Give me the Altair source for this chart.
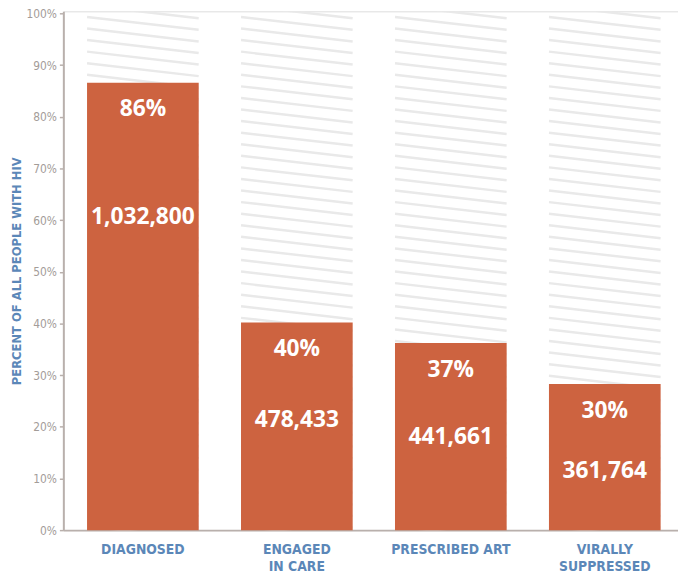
import altair as alt
import pandas as pd

categories = ["DIAGNOSED", "ENGAGED|IN CARE", "PRESCRIBED ART", "VIRALLY|SUPPRESSED"]
bar_values = [86.6, 40.2, 36.2, 28.3]
pct_labels = ["86%", "40%", "37%", "30%"]
count_labels = ["1,032,800", "478,433", "441,661", "361,764"]
y_ticks = [0, 10, 20, 30, 40, 50, 60, 70, 80, 90, 100]

BAR = "#cd6340"
BLUE = "#5b87b8"
GRAY = "#a39c98"
AXIS = "#b9b0ac"
COND = "DejaVu Sans Condensed, Liberation Sans, sans-serif"

df = pd.DataFrame({
    "cat": categories,
    "value": bar_values,
    "pct": pct_labels,
    "count": count_labels,
})

# decorative hatching (background stripes of each column)
TOP = 100.4
stripe_rows = []
for c in categories:
    for k in range(52):
        yl = TOP + 3.4 - k * 2.24
        stripe_rows.append({"cat": c, "yl": yl, "yr": yl - 2.5})
stripes = pd.DataFrame(stripe_rows)

xscale = alt.Scale(domain=categories, paddingInner=0.275, paddingOuter=0.1335, align=0.577)
yscale = alt.Scale(domain=[0, TOP], nice=False)

xaxis = alt.Axis(
    title=None, labelAngle=0, ticks=False, domainColor=AXIS, domainWidth=2,
    labelColor=BLUE, labelFont=COND, labelFontWeight="bold",
    labelFontSize=14, labelPadding=13, labelLineHeight=17,
    labelExpr="split(datum.value, '|')",
)
yaxis = alt.Axis(
    title="PERCENT OF ALL PEOPLE WITH HIV", values=y_ticks,
    labelExpr="datum.value + '%'", grid=False,
    domainColor=AXIS, domainWidth=2, tickColor=AXIS, tickSize=4, tickWidth=1.5,
    labelColor=GRAY, labelFont=COND, labelFontSize=12,
    labelPadding=3,
    titleColor=BLUE, titleFont=COND, titleFontWeight="bold",
    titleFontSize=13, titlePadding=2,
)

hatch = alt.Chart(stripes).mark_rule(
    color="#e9e9e9", strokeWidth=2.5, clip=True
).encode(
    x=alt.X("cat:N", scale=xscale, axis=xaxis, sort=categories, bandPosition=0),
    x2=alt.X2("cat", bandPosition=1),
    y=alt.Y("yl:Q", scale=yscale, axis=yaxis),
    y2="yr:Q",
)

bars = alt.Chart(df).mark_bar(color=BAR, size=113).encode(
    x=alt.X("cat:N", scale=xscale, sort=categories),
    y=alt.Y("value:Q", scale=yscale),
)

pct_text = alt.Chart(df).mark_text(
    color="white", font="Open Sans", fontWeight="bold", fontSize=23,
    baseline="middle", dy=27,
).encode(
    x=alt.X("cat:N", scale=xscale, sort=categories),
    y=alt.Y("value:Q", scale=yscale),
    text="pct:N",
)

count_text = alt.Chart(df).transform_calculate(
    ly="0.843 * datum.value - 12.5"
).mark_text(
    color="white", font="Open Sans", fontWeight="bold", fontSize=23,
    baseline="middle",
).encode(
    x=alt.X("cat:N", scale=xscale, sort=categories),
    y=alt.Y("ly:Q", scale=yscale),
    text="count:N",
)

chart = alt.layer(hatch, bars, pct_text, count_text).properties(
    width=622, height=525,
    autosize=alt.AutoSizeParams(type="none"),
    padding={"left": 56, "top": 0, "right": 0, "bottom": 40},
).configure_view(stroke=None).configure(background="white")

chart.save("out.html", embed_options={"renderer": "svg", "actions": False})
